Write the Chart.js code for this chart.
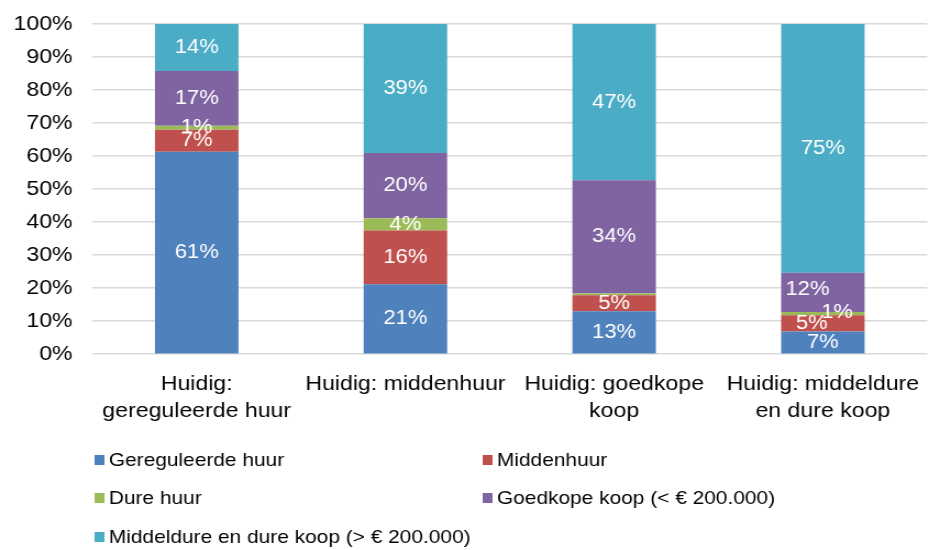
<!DOCTYPE html>
<html>
<head>
<meta charset="utf-8">
<script src="https://cdn.jsdelivr.net/npm/chart.js@4.4.1/dist/chart.umd.min.js"></script>
<style>
html, body { margin: 0; padding: 0; background: #fff; }
#chart { display: block; }
</style>
</head>
<body>
<!-- the original picture is a bit wider than its text, so the canvas is stretched -->
<canvas id="chart" width="845" height="550" style="width:929px;height:550px"></canvas>
<script>
let categories = [["Huidig:", "gereguleerde huur"], "Huidig: middenhuur", ["Huidig: goedkope", "koop"], ["Huidig: middeldure", "en dure koop"]];
let seriesNames = ["Gereguleerde huur", "Middenhuur", "Dure huur", "Goedkope koop (< € 200.000)", "Middeldure en dure koop (> € 200.000)"];
let gereguleerdeHuur = [61.3, 21.2, 13.0, 6.9];
let middenhuur = [6.7, 16.3, 4.9, 4.9];
let dureHuur = [1.2, 3.7, 0.5, 1.0];
let goedkopeKoop = [16.6, 19.7, 34.3, 11.9];
let middeldureKoop = [14.2, 39.1, 47.3, 75.3];
let yMin = 0, yMax = 100, yStep = 10;

let seriesColors = ["#4F81BD", "#C0504D", "#9BBB59", "#8064A2", "#4BACC6"];
let seriesValues = [gereguleerdeHuur, middenhuur, dureHuur, goedkopeKoop, middeldureKoop];

// small manual nudges of value labels, like in the original (dataset:index -> [dx, dy])
let labelNudge = { "3:3": [-14, -3], "2:3": [13, -1], "1:3": [-10, 0] };

const valueLabels = {
    id: "valueLabels",
    afterDatasetsDraw(chart) {
        const ctx = chart.ctx;
        ctx.save();
        ctx.font = "20px 'Liberation Sans', Arial, sans-serif";
        ctx.fillStyle = "#fff";
        ctx.textAlign = "center";
        ctx.textBaseline = "middle";
        chart.data.datasets.forEach((ds, i) => {
            const meta = chart.getDatasetMeta(i);
            meta.data.forEach((bar, j) => {
                const v = ds.data[j];
                if (v < 0.8) return;
                const p = bar.getProps(["x", "y", "base"], true);
                const n = labelNudge[i + ":" + j] || [0, 0];
                ctx.fillText(Math.round(v) + "%", p.x + n[0], (p.y + p.base) / 2 + n[1]);
            });
        });
        ctx.restore();
    }
};

// legend in two columns under the axis labels
const gridLegend = {
    id: "gridLegend",
    afterDraw(chart) {
        const ctx = chart.ctx;
        const left = chart.chartArea.left + 2;
        const colW = 353;
        const rowY = [chart.height - 90, chart.height - 52, chart.height - 13];
        ctx.save();
        ctx.font = "19px 'Liberation Sans', Arial, sans-serif";
        ctx.textBaseline = "middle";
        ctx.textAlign = "left";
        chart.data.datasets.forEach((ds, i) => {
            const x = left + (i % 2) * colW;
            const y = rowY[Math.floor(i / 2)];
            ctx.fillStyle = ds.backgroundColor;
            ctx.fillRect(x, y - 5, 9, 10);
            ctx.fillStyle = "#000";
            ctx.fillText(ds.label, x + 13, y + 1);
        });
        ctx.restore();
    }
};

new Chart("chart", {
    type: "bar",
    data: {
        labels: categories,
        datasets: seriesNames.map((name, i) => ({
            label: name,
            data: seriesValues[i],
            backgroundColor: seriesColors[i],
            borderWidth: 0,
            barPercentage: 0.4,
            categoryPercentage: 1.0
        }))
    },
    options: {
        responsive: false,
        animation: false,
        devicePixelRatio: 1,
        layout: { padding: { top: 24, left: 12, right: 0, bottom: 116 } },
        plugins: {
            legend: { display: false },
            tooltip: { enabled: false }
        },
        scales: {
            x: {
                stacked: true,
                grid: { display: false },
                border: { display: false },
                ticks: {
                    color: "#000",
                    font: { family: "'Liberation Sans', Arial, sans-serif", size: 21, lineHeight: 1.28 },
                    maxRotation: 0,
                    autoSkip: false,
                    padding: 9
                }
            },
            y: {
                stacked: true,
                min: yMin,
                max: yMax,
                afterFit: scale => {
                    scale.width = 72;
                    scale.paddingTop = 0;
                    scale.paddingBottom = 0;
                },
                grid: { color: "#d9d9d9", lineWidth: 1.6, drawTicks: false },
                border: { display: false },
                ticks: {
                    stepSize: yStep,
                    color: "#000",
                    font: { family: "'Liberation Sans', Arial, sans-serif", size: 21 },
                    padding: 18,
                    callback: v => v + "%"
                }
            }
        }
    },
    plugins: [valueLabels, gridLegend]
});
</script>
</body>
</html>
